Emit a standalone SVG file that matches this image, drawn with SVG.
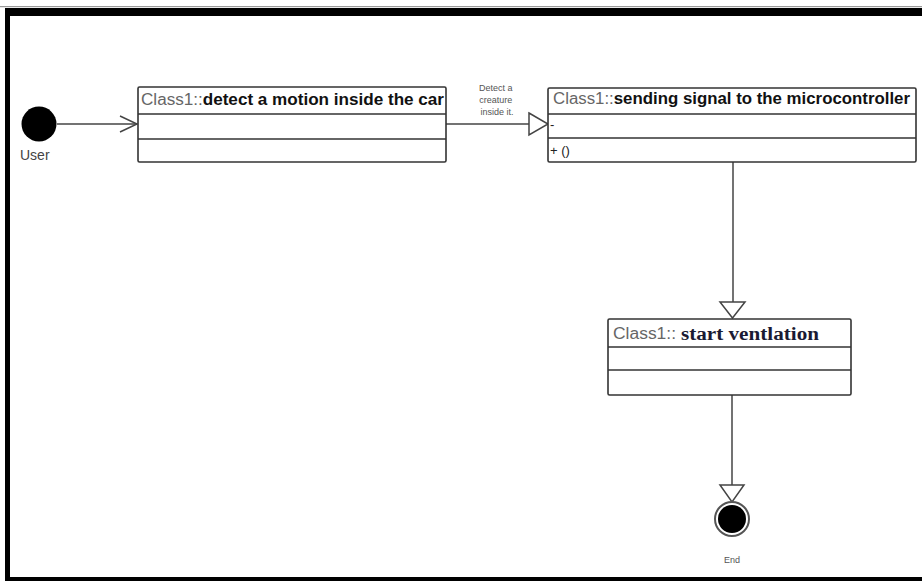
<svg xmlns="http://www.w3.org/2000/svg" width="922" height="581" viewBox="0 0 922 581">
  <style>
    .box { fill: #fff; stroke: #333; stroke-width: 1.6; }
    .div { stroke: #333; stroke-width: 1.6; }
    .edge { stroke: #444; stroke-width: 1.5; fill: none; }
    .tri { fill: #fff; stroke: #444; stroke-width: 1.5; }
    .stereo { fill: #666; font-family: "Liberation Sans", Arial, sans-serif; font-size: 16px; }
    .name { fill: #111; font-weight: bold; }
    .small { fill: #555; font-family: "Liberation Sans", Arial, sans-serif; font-size: 9px; }
    .lbl { fill: #444; font-family: "Liberation Sans", Arial, sans-serif; font-size: 14px; }
    .attr { fill: #222; font-family: "Liberation Sans", Arial, sans-serif; font-size: 13px; }
  </style>
  <defs>
    <marker id="open" markerWidth="20" markerHeight="18" refX="18" refY="9" orient="auto" markerUnits="userSpaceOnUse">
      <path d="M1,1 L18,9 L1,17" fill="none" stroke="#444" stroke-width="1.5"/>
    </marker>
  </defs>

  <!-- frame -->
  <rect x="0" y="0" width="922" height="581" fill="#fff"/>
  <rect x="0" y="6" width="922" height="1.2" fill="#999"/>
  <rect x="5" y="8" width="917" height="8" fill="#000"/>
  <rect x="5" y="8" width="5" height="573" fill="#000"/>
  <rect x="5" y="577" width="917" height="4" fill="#000"/>

  <!-- connectors -->
  <g id="connectors">
    <line class="edge" x1="57" y1="124" x2="137" y2="124" marker-end="url(#open)"/>
    <line class="edge" x1="446" y1="124" x2="529" y2="124"/>
    <polygon class="tri" points="529,113 548,124 529,135"/>
    <text class="small" text-anchor="middle">
      <tspan x="497" y="91">Detect a</tspan>
      <tspan x="497" y="103">creature</tspan>
      <tspan x="497" y="115">inside it.</tspan>
    </text>
    <line class="edge" x1="733" y1="162" x2="733" y2="302"/>
    <polygon class="tri" points="720,302 745,302 732.5,318"/>
    <line class="edge" x1="732" y1="395" x2="732" y2="485"/>
    <polygon class="tri" points="720,485 744,485 732,502"/>
  </g>

  <!-- initial node -->
  <g id="start">
    <circle cx="39" cy="124" r="17.5" fill="#000"/>
    <text class="lbl" x="20" y="160">User</text>
  </g>

  <!-- class 1 -->
  <g id="detect">
    <rect class="box" x="138" y="87" width="308" height="75" rx="1.5"/>
    <line class="div" x1="138" y1="114" x2="446" y2="114"/>
    <line class="div" x1="138" y1="139" x2="446" y2="139"/>
    <text class="stereo" x="141" y="105" textLength="303" lengthAdjust="spacingAndGlyphs">Class1::<tspan class="name">detect a motion inside the car</tspan></text>
  </g>

  <!-- class 2 -->
  <g id="sending">
    <rect class="box" x="548" y="88" width="368" height="74" rx="1.5"/>
    <line class="div" x1="548" y1="114" x2="916" y2="114"/>
    <line class="div" x1="548" y1="138" x2="916" y2="138"/>
    <text class="stereo" x="553" y="104" textLength="357" lengthAdjust="spacingAndGlyphs">Class1::<tspan class="name">sending signal to the microcontroller</tspan></text>
    <text class="attr" x="550" y="129">-</text>
    <text class="attr" x="550" y="155">+ ()</text>
  </g>

  <!-- class 3 -->
  <g id="ventilation">
    <rect class="box" x="608" y="319" width="243" height="76" rx="1.5"/>
    <line class="div" x1="608" y1="347" x2="851" y2="347"/>
    <line class="div" x1="608" y1="370" x2="851" y2="370"/>
    <text class="stereo" x="613" y="339" textLength="63" lengthAdjust="spacingAndGlyphs">Class1::</text>
    <text x="681" y="340" font-family="'Liberation Serif', 'Times New Roman', serif" font-weight="bold" font-size="18" fill="#1a1a33" textLength="138" lengthAdjust="spacingAndGlyphs">start ventlation</text>
  </g>

  <!-- final node -->
  <g id="end">
    <circle cx="732" cy="519" r="17" fill="#fff" stroke="#555" stroke-width="2"/>
    <circle cx="732" cy="519" r="14" fill="#000"/>
    <text class="small" x="732" y="563" text-anchor="middle">End</text>
  </g>
</svg>
